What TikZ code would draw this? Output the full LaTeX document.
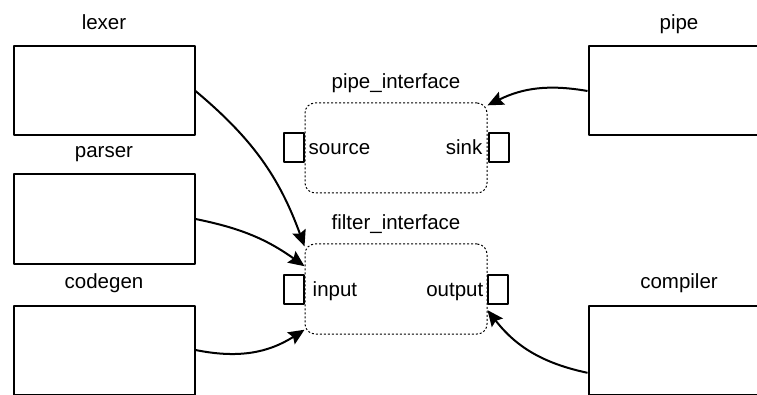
\documentclass[tikz,border=0pt]{standalone}
\usepackage{fontspec}
\setmainfont{Liberation Sans}
\usetikzlibrary{arrows.meta}

\begin{document}
\begin{tikzpicture}[>={Stealth[length=16pt,width=14pt,inset=2.5pt]}, line join=round, x=1pt, y=-1pt,
        font=\fontsize{20.5}{24}\selectfont,
        comp/.style={draw, line width=2pt, minimum width=181pt, minimum height=89pt},
        clabel/.style={anchor=base, yshift=16pt},
        iface/.style={draw, dash pattern=on 2pt off 2pt, line width=1pt, rounded corners=10pt,
            minimum width=182pt, minimum height=90pt},
        ilabel/.style={anchor=base, yshift=14pt},
        port/.style={draw, line width=2pt, minimum width=20pt, minimum height=29pt, inner sep=0pt},
        ptext/.style={inner sep=0pt},
        flow/.style={->, line width=2pt}]
        \useasboundingbox (0,0) rectangle (757,395);
        \def\xl{104} \def\xr{679} \def\xm{396}
        % components
        \node[comp, label={[clabel]above:lexer}] (lexer) at (\xl,91) {};
        \node[comp, label={[clabel]above:parser}] (parser) at (\xl,219) {};
        \node[comp, label={[clabel]above:codegen}] (codegen) at (\xl,350) {};
        \node[comp, label={[clabel]above:pipe}] (pipe) at (\xr,91) {};
        \node[comp, label={[clabel]above:compiler}] (compiler) at (\xr,350) {};
        % interfaces
        \node[iface, label={[ilabel]above:pipe\_interface}] (pi) at (\xm,148) {};
        \node[iface, label={[ilabel]above:filter\_interface}] (fi) at (\xm,289) {};
        \node[port] (source) at (pi.west) [xshift=-11pt] {};
        \node[port] (sink) at (pi.east) [xshift=11pt] {};
        \node[port] (input) at (fi.west) [xshift=-11pt] {};
        \node[port] (output) at (fi.east) [xshift=10pt] {};
        \node[ptext, anchor=base west] (sourcetxt) at ([shift={(4,7)}]source.east) {source};
        \node[ptext, anchor=base east] (sinktxt) at ([shift={(-5,7)}]sink.west) {sink};
        \node[ptext, anchor=base west] (inputtxt) at ([shift={(8,7)}]input.east) {input};
        \node[ptext, anchor=base east] (outputtxt) at ([shift={(-3,7)}]output.west) {output};
        % connectors
        \draw[flow] (lexer.east) to[bend left=15] (fi.155);
        \draw[flow] (parser.east) to[bend left=12] (fi.166);
        \draw[flow] (codegen.east) to[bend right=22] (fi.204);
        \draw[flow] (pipe.west) to[bend right=18] (pi.25);
        \draw[flow] (compiler.194) to[bend left=20] (fi.-13);
    \end{tikzpicture}
\end{document}
